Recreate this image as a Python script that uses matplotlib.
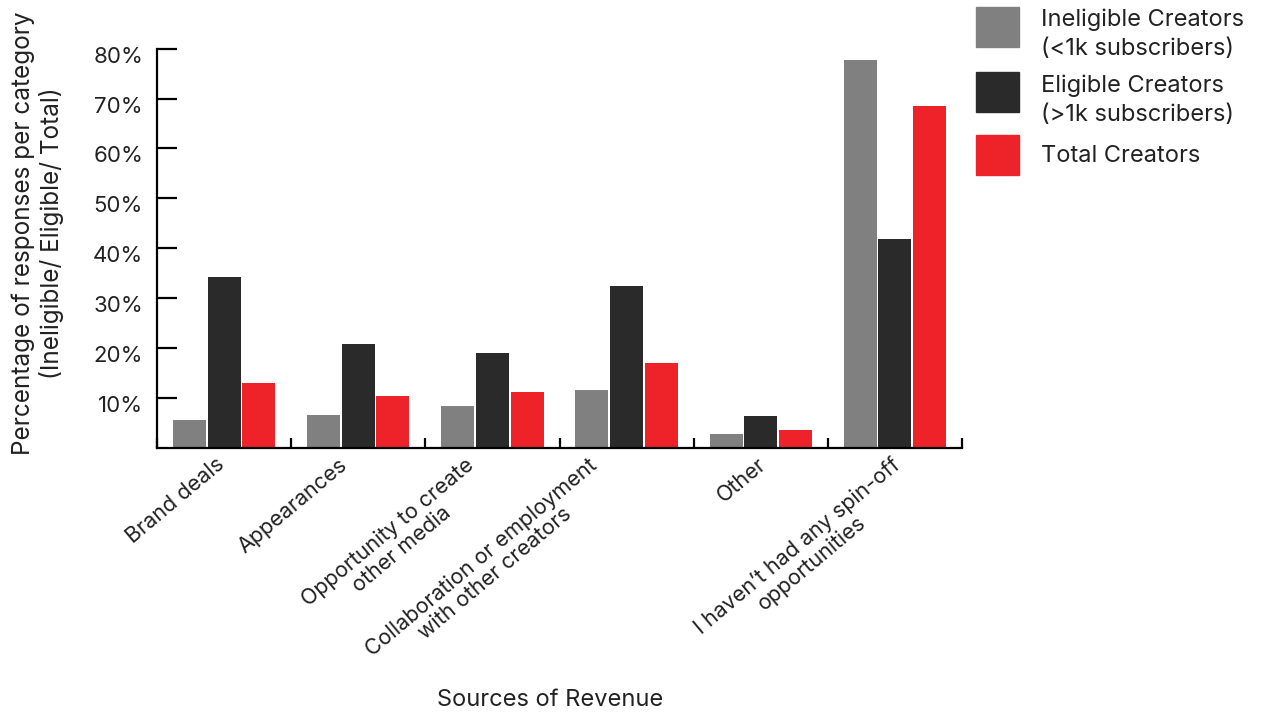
import matplotlib
matplotlib.use("Agg")
import matplotlib.pyplot as plt
import matplotlib.transforms as mtransforms
from matplotlib.patches import Rectangle
import numpy as np

plt.rcParams['font.family'] = ['Inter', 'DejaVu Sans']

categories = [
    "Brand deals",
    "Appearances",
    "Opportunity to create\nother media",
    "Collaboration or employment\nwith other creators",
    "Other",
    "I haven\u2019t had any spin-off\nopportunities",
]
ineligible = [5.5, 6.5, 8.3, 11.5, 2.7, 77.7]
eligible = [34.2, 20.8, 18.9, 32.4, 6.3, 41.8]
total = [13.0, 10.4, 11.1, 16.9, 3.5, 68.5]

series_labels = [
    "Ineligible Creators\n(<1k subscribers)",
    "Eligible Creators\n(>1k subscribers)",
    "Total Creators",
]
colors = ["#808080", "#2a2a2a", "#ee232a"]
yticks = [10, 20, 30, 40, 50, 60, 70, 80]
txt = "#222222"

W, H = 1263, 715
fig = plt.figure(figsize=(W / 100, H / 100), dpi=100)
ax = fig.add_axes([0.1243, 0.3741, 0.6374, 0.5578])

x = np.arange(len(categories))
slot = 0.258
width = 0.246
for i, (vals, lab, col) in enumerate(zip([ineligible, eligible, total], series_labels, colors)):
    ax.bar(x + (i - 1) * slot, vals, width, color=col, label=lab)

ax.set_xlim(-0.5, len(categories) - 0.5)
ax.set_ylim(0, 80)

for side in ("top", "right"):
    ax.spines[side].set_visible(False)
for side in ("left", "bottom"):
    ax.spines[side].set_linewidth(1.6)
    ax.spines[side].set_color("black")

ax.set_yticks(yticks)
ax.set_yticklabels([f"{v}%" for v in yticks], fontsize=16, color=txt)
ax.tick_params(axis="y", direction="in", length=14.5, width=1.6, pad=10)
for lbl in ax.get_yticklabels():
    lbl.set_transform(lbl.get_transform() + mtransforms.ScaledTranslation(0, -0.06, fig.dpi_scale_trans))

ax.set_xticks(x)
ax.set_xticklabels(categories, fontsize=15.5, color=txt, rotation=40,
                   ha="right", va="top", rotation_mode="anchor", multialignment="center",
                   linespacing=1.1)
ax.tick_params(axis="x", length=0, pad=5)
ax.set_xticks(np.arange(-0.5, len(categories)), minor=True)
ax.tick_params(axis="x", which="minor", direction="in", length=7, width=1.6)

# small nudges so each rotated label sits where the original places it
shifts = [-9, -20, -28, -39, -4, -4]
for lbl, dx in zip(ax.get_xticklabels(), shifts):
    lbl.set_transform(lbl.get_transform() + mtransforms.ScaledTranslation(dx / 100, 0, fig.dpi_scale_trans))

ax.set_ylabel("Percentage of responses per category\n(Ineligible/ Eligible/ Total)",
              fontsize=17.5, color=txt, linespacing=1.2, va="center")
ax.yaxis.set_label_coords(-0.148, 0.538)
ax.set_xlabel("Sources of Revenue", fontsize=17, color=txt, va="center")
ax.xaxis.set_label_coords(0.488, -0.633)

# legend drawn by hand: square swatch + label, placed in figure pixels
box_tops = [7, 72, 135]
baselines = [55, 121, 162]   # baseline of each label's last line
for col, lab, top, base in zip(colors, series_labels, box_tops, baselines):
    fig.add_artist(Rectangle((976 / W, 1 - (top + 40) / H), 43 / W, 40 / H,
                             transform=fig.transFigure, color=col))
    fig.text(1041 / W, 1 - base / H, lab, fontsize=17, color=txt,
             va="baseline", ha="left", linespacing=1.42)

fig.savefig("out.png", dpi=100)
